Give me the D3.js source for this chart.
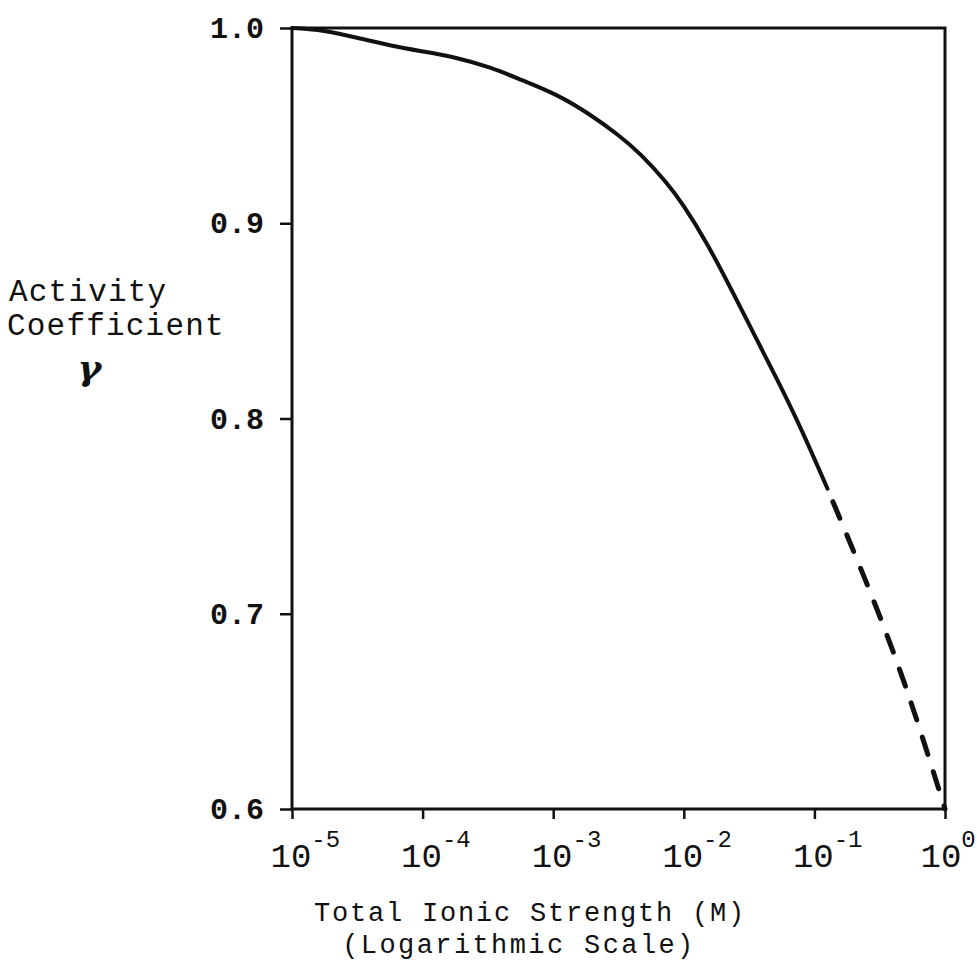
<!DOCTYPE html>
<html>
<head>
<meta charset="utf-8">
<script src="https://cdn.jsdelivr.net/npm/d3@7"></script>
<style>
  body { margin: 0; background: #fff; }
  svg { display: block; }
  text { font-family: "Liberation Mono", "DejaVu Sans Mono", monospace; fill: #111; }
</style>
</head>
<body>
<div id="chart"></div>
<script>
// measured curve (solid part)
const ionicStrength = [1.0e-5, 1.74e-5, 3.16e-5, 5.6e-5, 1.0e-4, 1.8e-4, 3.3e-4, 5.9e-4,
  1.07e-3, 1.9e-3, 3.2e-3, 4.6e-3, 7.4e-3, 9.8e-3, 0.0148, 0.024, 0.034, 0.051, 0.078, 0.126];
const activity = [1.000, 0.999, 0.995, 0.991, 0.988, 0.985, 0.980, 0.973,
  0.966, 0.956, 0.945, 0.936, 0.921, 0.910, 0.891, 0.864, 0.844, 0.821, 0.796, 0.764];
// extrapolated (dashed part)
const ionicStrengthExt = [0.126, 0.267, 0.45, 0.65, 1.0];
const activityExt = [0.764, 0.712, 0.672, 0.640, 0.600];

const xTicks = [1e-5, 1e-4, 1e-3, 1e-2, 1e-1, 1];
const xTickExp = ["-5", "-4", "-3", "-2", "-1", "0"];
const yTicks = [0.6, 0.7, 0.8, 0.9, 1.0];

const width = 977, height = 968;
const plotLeft = 292, plotRight = 945, plotTop = 28, plotBottom = 809;

const svg = d3.select("#chart").append("svg")
  .attr("width", width)
  .attr("height", height);

const x = d3.scaleLog().domain([1e-5, 1]).range([plotLeft, plotRight]);
const y = d3.scaleLinear().domain([0.6, 1.0]).range([plotBottom, plotTop]);

// frame
svg.append("rect")
  .attr("x", plotLeft).attr("y", plotTop)
  .attr("width", plotRight - plotLeft).attr("height", plotBottom - plotTop)
  .attr("fill", "none").attr("stroke", "#111").attr("stroke-width", 3);

// y axis
const yAxis = svg.append("g")
  .attr("transform", `translate(${plotLeft},0)`)
  .call(d3.axisLeft(y).tickValues(yTicks).tickFormat(d3.format(".1f")).tickSize(12).tickPadding(16));
yAxis.select(".domain").remove();
yAxis.selectAll("line").attr("stroke", "#111").attr("stroke-width", 2.5);
yAxis.selectAll("text")
  .attr("fill", "#111")
  .style("font-size", "30px")
  .style("font-weight", "bold")
  .style("font-family", "'Liberation Mono', monospace");

// x axis
const xAxis = svg.append("g")
  .attr("transform", `translate(0,${plotBottom})`)
  .call(d3.axisBottom(x).tickValues(xTicks).tickFormat("").tickSize(10));
xAxis.select(".domain").remove();
xAxis.selectAll("line").attr("stroke", "#111").attr("stroke-width", 2.5);

xAxis.selectAll(".tick").append("text")
  .attr("y", 58)
  .attr("x", (d, i) => i === xTicks.length - 1 ? -25 : -22)
  .attr("text-anchor", "start")
  .attr("fill", "#111")
  .style("font-size", "34px")
  .style("font-family", "'Liberation Mono', monospace")
  .each(function(d, i) {
    const t = d3.select(this);
    t.append("tspan").text("10");
    t.append("tspan").attr("dy", -20).style("font-size", "24px").text(xTickExp[i]);
  });

// curves
const line = d3.line()
  .x(d => x(d[0]))
  .y(d => y(d[1]))
  .curve(d3.curveBasis);

svg.append("path")
  .datum(d3.zip(ionicStrength, activity))
  .attr("d", line)
  .attr("fill", "none")
  .attr("stroke", "#111")
  .attr("stroke-width", 4)
  .attr("stroke-linecap", "round");

svg.append("path")
  .datum(d3.zip(ionicStrengthExt, activityExt))
  .attr("d", line)
  .attr("fill", "none")
  .attr("stroke", "#111")
  .attr("stroke-width", 5)
  .attr("stroke-linecap", "round")
  .attr("stroke-dasharray", "18,18")
  .attr("stroke-dashoffset", -14);

// y label
const yl = svg.append("g").style("font-size", "31px").style("letter-spacing", "1.2px");
yl.append("text").attr("x", 9).attr("y", 301).text("Activity");
yl.append("text").attr("x", 7).attr("y", 335).text("Coefficient");
yl.append("text").attr("x", 90).attr("y", 380)
  .attr("text-anchor", "middle")
  .style("font-family", "'DejaVu Serif', serif")
  .style("font-style", "italic")
  .style("font-weight", "bold")
  .style("font-size", "36px")
  .text("γ");

// x label
svg.append("text")
  .attr("x", 530).attr("y", 921)
  .attr("text-anchor", "middle")
  .style("font-size", "27px")
  .style("letter-spacing", "1.8px")
  .text("Total Ionic Strength (M)");
svg.append("text")
  .attr("x", 519).attr("y", 953)
  .attr("text-anchor", "middle")
  .style("font-size", "27px")
  .style("letter-spacing", "2.4px")
  .text("(Logarithmic Scale)");
</script>
</body>
</html>
